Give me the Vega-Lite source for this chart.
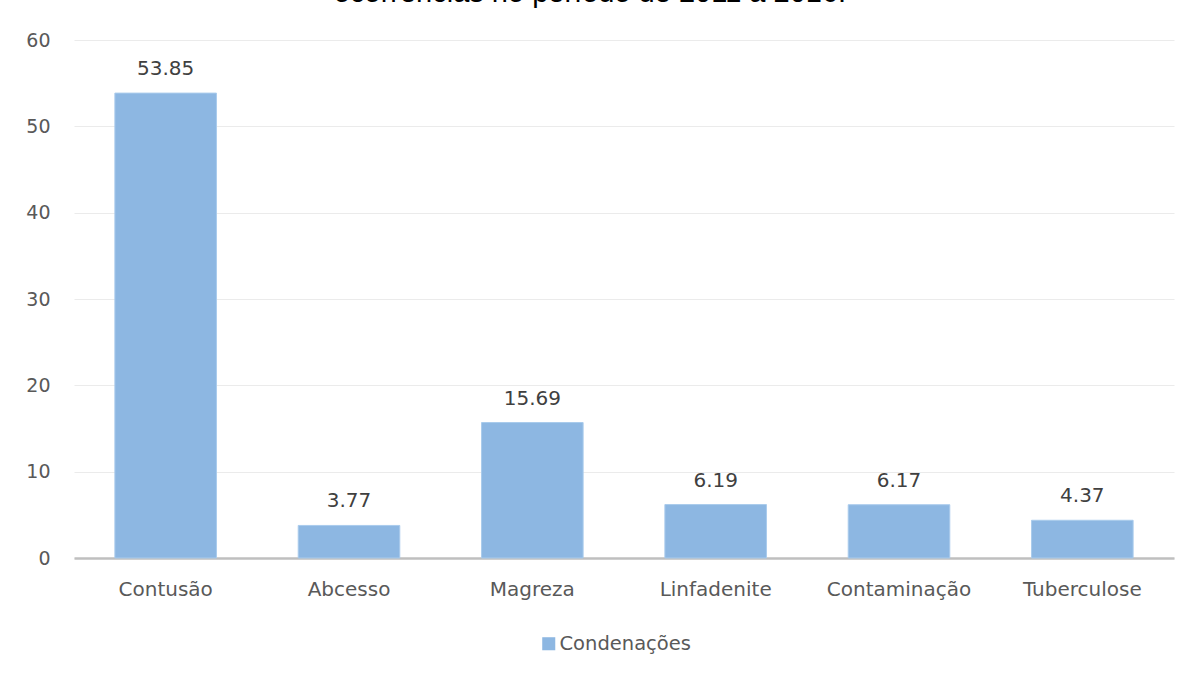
{
  "$schema": "https://vega.github.io/schema/vega-lite/v6.json",
  "autosize": {"type": "none"},
  "width": 1100,
  "height": 518,
  "padding": {"left": 74, "top": 40, "right": 16, "bottom": 117},
  "background": "white",
  "title": {
    "text": "ocorrências no período de 2011 a 2016.",
    "font": "Liberation Sans",
    "fontSize": 29,
    "fontWeight": "normal",
    "color": "#000000",
    "anchor": "middle",
    "dx": -34,
    "offset": 23
  },
  "data": {
    "values": [
      {"categoria": "Contusão", "valor": 53.85, "serie": "Condenações"},
      {"categoria": "Abcesso", "valor": 3.77, "serie": "Condenações"},
      {"categoria": "Magreza", "valor": 15.69, "serie": "Condenações"},
      {"categoria": "Linfadenite", "valor": 6.19, "serie": "Condenações"},
      {"categoria": "Contaminação", "valor": 6.17, "serie": "Condenações"},
      {"categoria": "Tuberculose", "valor": 4.37, "serie": "Condenações"}
    ]
  },
  "encoding": {
    "x": {
      "field": "categoria",
      "type": "nominal",
      "sort": null,
      "title": null,
      "scale": {"paddingInner": 0.446, "paddingOuter": 0.223},
      "axis": {
        "labelAngle": 0,
        "labelFont": "DejaVu Sans",
        "labelFontSize": 20,
        "labelColor": "#595959",
        "labelPadding": 21,
        "ticks": false,
        "domainColor": "#BFBFBF",
        "domainWidth": 2.5
      }
    },
    "y": {
      "field": "valor",
      "type": "quantitative",
      "title": null,
      "scale": {"domain": [0, 60], "nice": false},
      "axis": {
        "values": [0, 10, 20, 30, 40, 50, 60],
        "labelFont": "DejaVu Sans",
        "labelFontSize": 19,
        "labelColor": "#595959",
        "labelPadding": 24,
        "ticks": false,
        "domain": false,
        "gridColor": "#EBEBEB",
        "gridWidth": 1.2
      }
    }
  },
  "layer": [
    {
      "mark": {"type": "bar", "color": "#8DB7E2", "stroke": "#A9CBEC", "strokeWidth": 1},
      "encoding": {
        "color": {
          "field": "serie",
          "type": "nominal",
          "scale": {"range": ["#8DB7E2"]},
          "legend": {
            "orient": "none",
            "legendX": 465,
            "legendY": 594,
            "title": null,
            "symbolType": "square",
            "symbolSize": 170,
            "symbolStrokeWidth": 0,
            "symbolOffset": 0,
            "labelOffset": 1,
            "labelFont": "DejaVu Sans",
            "labelFontSize": 19.5,
            "labelColor": "#595959"
          }
        }
      }
    },
    {
      "mark": {
        "type": "text",
        "baseline": "bottom",
        "dy": -14,
        "font": "DejaVu Sans",
        "fontSize": 20,
        "color": "#404040"
      },
      "encoding": {
        "text": {"field": "valor", "type": "quantitative", "format": ".2f"}
      }
    }
  ],
  "config": {
    "view": {"stroke": null}
  }
}
